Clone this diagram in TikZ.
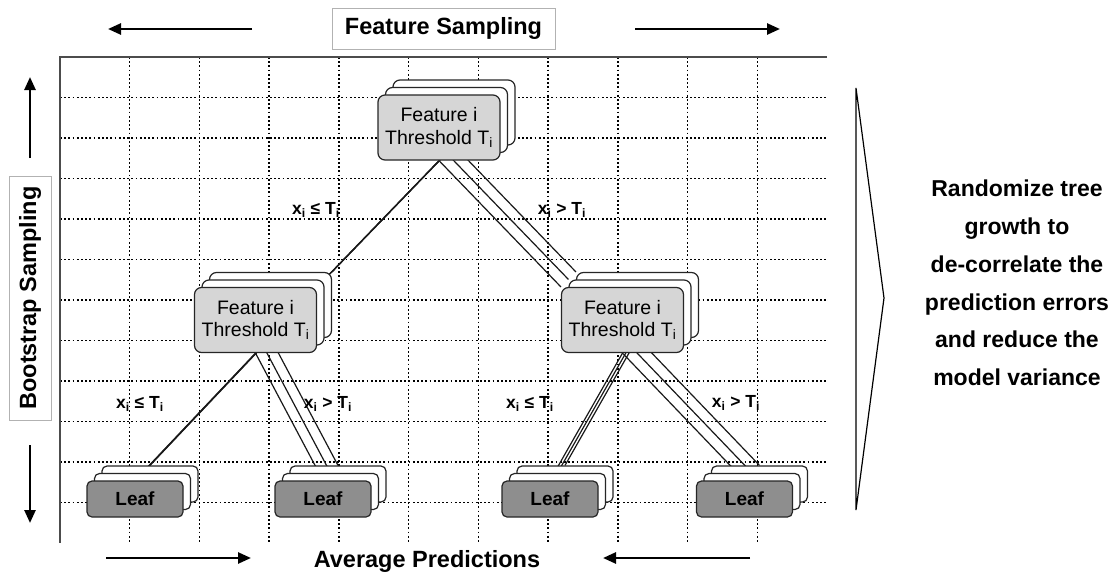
\documentclass[tikz,border=0pt]{standalone}
\usepackage{fontspec}
\setmainfont{Liberation Sans}
\usetikzlibrary{arrows.meta}
\pgfdeclarelayer{gridl}
\pgfdeclarelayer{edgel}
\pgfsetlayers{gridl,edgel,main}
\definecolor{boxgray}{HTML}{D6D6D6}
\definecolor{leafgray}{HTML}{8E8E8E}
\newcommand\mkstack[5]{%
  \node[#3, fill=white, xshift=15pt, yshift=15pt] (#1-2) at (#2) {};
  \node[#3, fill=white, xshift=7.5pt, yshift=7.5pt] (#1-1) at (#2) {};
  \node[#3, fill=#4] (#1-0) at (#2) {#5};
}
\begin{document}
\begin{tikzpicture}[x=1pt,y=-1pt,
  mainbox/.style={rectangle, rounded corners=7pt, draw=black!85, line width=1.2pt, minimum width=122pt, minimum height=65pt, inner sep=0pt, align=center, font=\fontsize{19.5}{22.5}\selectfont},
  leafbox/.style={rectangle, rounded corners=5pt, draw=black!85, line width=1.2pt, minimum width=96pt, minimum height=36pt, inner sep=0pt, font=\bfseries\fontsize{19}{22}\selectfont},
  edge/.style={draw=black!90, line width=1.2pt},
  cond/.style={font=\bfseries\fontsize{17.5}{19}\selectfont, inner sep=0pt},
  bigarrow/.style={line width=2.6pt, -{Triangle[length=13pt,width=11pt]}},
  outerlabel/.style={draw=black!30, line width=0.6pt, font=\bfseries\fontsize{23.5}{26}\selectfont, inner sep=0pt},
  plainlabel/.style={font=\bfseries\fontsize{23.5}{26}\selectfont, inner sep=0pt},
  gridline/.style={dash pattern=on 1.8pt off 2.4pt, line width=1.4pt, black}
]
\useasboundingbox (0,0) rectangle (1120,573);

% grid
\begin{pgfonlayer}{gridl}
\foreach \i in {1,...,10} \draw[gridline] ({60+69.73*\i},57) -- ({60+69.73*\i},543);
\foreach \j in {1,...,11} \draw[gridline] (60,{57+40.5*\j}) -- (827,{57+40.5*\j});
\draw[line width=1.4pt, black!70] (827,57) -- (60,57) -- (60,543);
\end{pgfonlayer}

% tree nodes
\mkstack{root}{439,127.5}{mainbox}{boxgray}{Feature i\\Threshold T\textsubscript{i}}
\mkstack{lm}{255.5,320}{mainbox}{boxgray}{Feature i\\Threshold T\textsubscript{i}}
\mkstack{rm}{622.5,320}{mainbox}{boxgray}{Feature i\\Threshold T\textsubscript{i}}
\mkstack{la}{135,499}{leafbox}{leafgray}{Leaf}
\mkstack{lb}{323,499}{leafbox}{leafgray}{Leaf}
\mkstack{lc}{550,499}{leafbox}{leafgray}{Leaf}
\mkstack{ld}{744.5,499}{leafbox}{leafgray}{Leaf}

% connectors
\begin{pgfonlayer}{edgel}
\foreach \k in {0,1,2} {
  \draw[edge] (root-\k.south) -- (lm-\k.north east);
  \draw[edge] (root-\k.south) -- (rm-\k.north west);
  \draw[edge] (lm-\k.south) -- (la-\k.north);
  \draw[edge] (lm-\k.south) -- (lb-\k.north);
  \draw[edge] (rm-\k.south) -- (lc-\k.north);
  \draw[edge] (rm-\k.south) -- (ld-\k.north);
}
\end{pgfonlayer}

% condition labels
\node[cond] (c1) at (316,210) {x\textsubscript{i} ≤ T\textsubscript{i}};
\node[cond] (c2) at (562,210) {x\textsubscript{i} > T\textsubscript{i}};
\node[cond] (c3) at (140,404) {x\textsubscript{i} ≤ T\textsubscript{i}};
\node[cond] (c4) at (328,404) {x\textsubscript{i} > T\textsubscript{i}};
\node[cond] (c5) at (530,404) {x\textsubscript{i} ≤ T\textsubscript{i}};
\node[cond] (c6) at (736,403) {x\textsubscript{i} > T\textsubscript{i}};

% outer labels and arrows
\node[outerlabel, minimum width=223pt, minimum height=41pt] (fs) at (443.5,28.5) {Feature Sampling};
\coordinate (fsL0) at (252,29); \coordinate (fsL1) at (108,29);
\coordinate (fsR0) at (635,29); \coordinate (fsR1) at (780,29);
\draw[bigarrow] (fsL0) -- (fsL1);
\draw[bigarrow] (fsR0) -- (fsR1);

\node[outerlabel, rotate=90, minimum width=244pt, minimum height=42pt] (bs) at (30,298) {Bootstrap Sampling};
\coordinate (bsU0) at (30,158); \coordinate (bsU1) at (30,77);
\coordinate (bsD0) at (30,445); \coordinate (bsD1) at (30,523);
\draw[bigarrow] (bsU0) -- (bsU1);
\draw[bigarrow] (bsD0) -- (bsD1);

\node[plainlabel] (ap) at (427,561) {Average Predictions};
\coordinate (apL0) at (106,558); \coordinate (apL1) at (251,558);
\coordinate (apR0) at (750,558); \coordinate (apR1) at (603,558);
\draw[bigarrow] (apL0) -- (apL1);
\draw[bigarrow] (apR0) -- (apR1);

% chevron and explanation
\draw[line width=1.2pt, line join=miter] (856,88) -- (884,298) -- (856,510) -- cycle;
\node[font=\bfseries\fontsize{23}{37.7}\selectfont, align=center, inner sep=0pt] (txt) at (1017,283)
  {Randomize tree\\growth to\\de-correlate the\\prediction errors\\and reduce the\\model variance};
\end{tikzpicture}
\end{document}
